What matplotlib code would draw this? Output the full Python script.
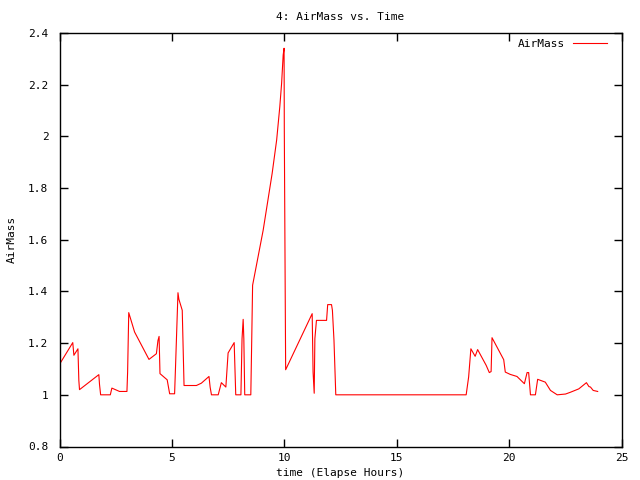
import matplotlib
matplotlib.use("Agg")
import matplotlib.pyplot as plt

hours = [0, 0.59, 0.64, 0.82, 0.86, 0.89, 1.75, 1.78, 1.83, 2.26, 2.33, 2.67, 3.0, 3.03, 3.08,
         3.34, 3.98, 4.31, 4.38, 4.43, 4.47, 4.79, 4.9, 5.12, 5.16, 5.27, 5.31, 5.46, 5.54,
         6.09, 6.31, 6.65, 6.7, 6.76, 7.06, 7.2, 7.4, 7.5, 7.77, 7.84, 8.07, 8.12, 8.17, 8.2,
         8.24, 8.51, 8.55, 8.59, 9.06, 9.46, 9.66, 9.8, 9.88, 9.95, 9.99, 10.0, 10.04, 10.06,
         11.24, 11.28, 11.33, 11.36, 11.43, 11.88, 11.93, 12.1, 12.14, 12.21, 12.29, 18.09,
         18.2, 18.3, 18.49, 18.6, 18.98, 19.12, 19.2, 19.24, 19.76, 19.83, 20.05, 20.35,
         20.68, 20.8, 20.87, 20.95, 21.17, 21.27, 21.61, 21.84, 22.14, 22.51, 22.73, 23.1,
         23.44, 23.55, 23.62, 23.74, 23.94]
airmass = [1.118, 1.202, 1.153, 1.178, 1.056, 1.02, 1.078, 1.04, 1.0, 1.0, 1.026, 1.013, 1.013,
           1.088, 1.318, 1.243, 1.137, 1.159, 1.21, 1.226, 1.082, 1.058, 1.004, 1.004, 1.105,
           1.395, 1.37, 1.327, 1.036, 1.036, 1.045, 1.071, 1.03, 1.0, 1.0, 1.047, 1.03, 1.162,
           1.202, 1.0, 1.0, 1.217, 1.292, 1.217, 1.0, 1.0, 1.207, 1.424, 1.637, 1.857, 1.986,
           2.115, 2.205, 2.315, 2.341, 2.03, 1.40, 1.097, 1.314, 1.088, 1.006, 1.217, 1.288,
           1.288, 1.349, 1.349, 1.327, 1.211, 1.0, 1.0, 1.069, 1.178, 1.149, 1.175, 1.114,
           1.086, 1.09, 1.221, 1.136, 1.088, 1.079, 1.071, 1.043, 1.086, 1.086, 1.0, 1.0,
           1.06, 1.049, 1.017, 1.0, 1.003, 1.01, 1.023, 1.047, 1.032, 1.03, 1.017, 1.013]

xticks = [0, 5, 10, 15, 20, 25]
xtick_labels = ["0", "5", "10", "15", "20", "25"]
yticks = [0.8, 1.0, 1.2, 1.4, 1.6, 1.8, 2.0, 2.2, 2.4]
ytick_labels = ["0.8", "1", "1.2", "1.4", "1.6", "1.8", "2", "2.2", "2.4"]

plt.rcParams['font.family'] = ['DejaVu Sans Mono']
fs = 8.0

L, R, T, B = 59.5, 621.5, 33, 446.5
fig = plt.figure(figsize=(6.4, 4.8), dpi=100)
ax = fig.add_axes([L/640, (480-B)/480, (R-L)/640, (B-T)/480])
ax.plot(hours, airmass, color='#ff0000', lw=0.8, label='AirMass')
ax.set_xlim(0, 25)
ax.set_ylim(0.8, 2.4)
ax.set_xticks(xticks)
ax.set_xticklabels(xtick_labels, fontsize=fs)
ax.set_yticks(yticks)
ax.set_yticklabels(ytick_labels, fontsize=fs)
ax.tick_params(direction='in', length=6, width=1, top=True, right=True)
ax.tick_params(axis='x', pad=5)
ax.tick_params(axis='y', pad=8)
for s in ax.spines.values():
    s.set_linewidth(1)
ax.set_title("4: AirMass vs. Time", fontsize=fs, pad=9)
ax.set_xlabel("time (Elapse Hours)", fontsize=fs)
ax.xaxis.set_label_coords(0.5, -(473 - B)/(B - T))
ax.xaxis.label.set_va('center')
ax.set_ylabel("AirMass", fontsize=fs)
ax.yaxis.set_label_coords(-(L - 12)/(R - L), 0.5)
ax.yaxis.label.set_va('center')
leg = ax.legend(loc='upper right', frameon=False, fontsize=fs, markerfirst=False,
                handlelength=3.1, handletextpad=0.7, borderaxespad=0.3, borderpad=0.2,
                bbox_to_anchor=(1 - 9/(R - L), 1.0))
fig.savefig("out.png", dpi=100)
